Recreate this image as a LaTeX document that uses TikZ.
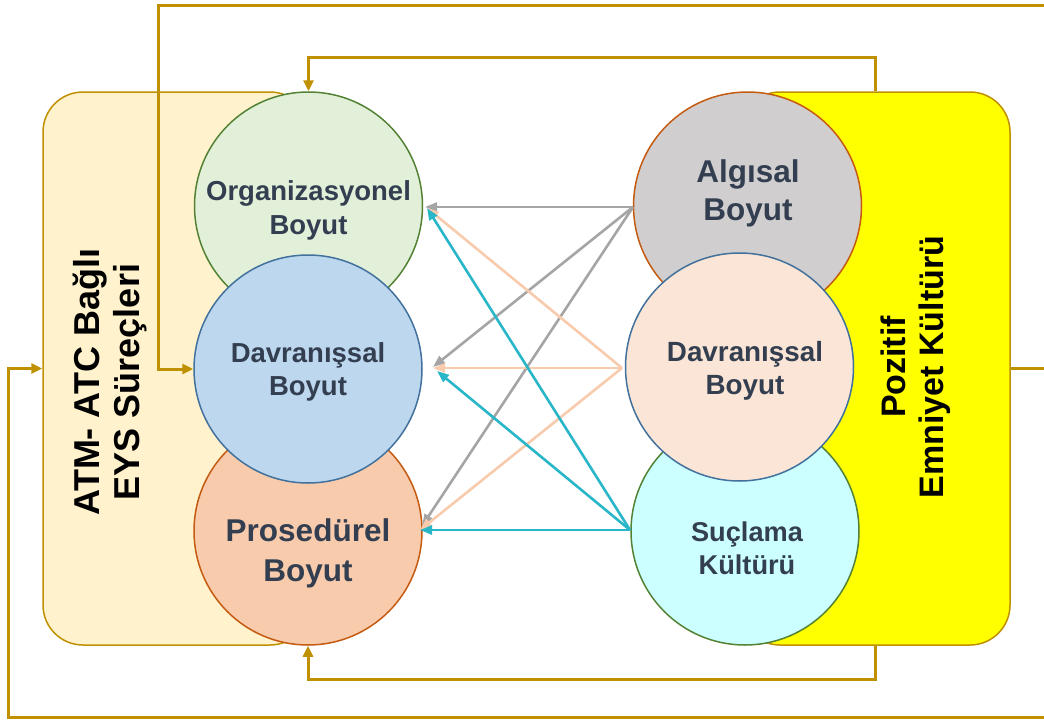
\documentclass[tikz,border=0pt]{standalone}
\usepackage{fontspec}
\setmainfont{Liberation Sans}
\usetikzlibrary{arrows.meta}
\definecolor{gold}{RGB}{191,144,0}
\definecolor{lbfill}{HTML}{FFF2CC}
\definecolor{rbfill}{HTML}{FFFF00}
\definecolor{txt}{HTML}{333F50}
\definecolor{gfill}{HTML}{E2F0D9}
\definecolor{gline}{HTML}{548235}
\definecolor{bfill}{HTML}{BDD7EE}
\definecolor{bline}{HTML}{41719C}
\definecolor{ofill}{HTML}{F8CBAD}
\definecolor{oline}{HTML}{C55A11}
\definecolor{grfill}{HTML}{D0CECE}
\definecolor{pfill}{HTML}{FBE5D6}
\definecolor{cfill}{HTML}{CCFFFF}
\definecolor{grayarr}{HTML}{A5A5A5}
\definecolor{peacharr}{HTML}{F8CBAD}
\definecolor{tealarr}{RGB}{40,182,200}
\tikzset{
  box/.style={draw=gold, line width=1.5pt, rounded corners=40pt, inner sep=0pt},
  circ/.style={circle, draw, line width=1.5pt, minimum size=228pt, inner sep=0pt},
  ctext/.style={text=txt, font=\bfseries, align=center},
  fb/.style={draw=gold, line width=3pt, -{Triangle[length=11pt,width=10pt]}},
  mid/.style={line width=2.6pt, -{Triangle[length=12pt,width=9pt]}},
}
\begin{document}
\begin{tikzpicture}[x=1pt,y=-1pt]
\useasboundingbox (0,0) rectangle (1044,720);
% boxes
\node[box, fill=lbfill, minimum width=267pt, minimum height=553pt] (LB) at (176.5,368.5) {};
\node[box, fill=rbfill, minimum width=270pt, minimum height=553pt] (RB) at (875,368.5) {};
% left circles
\node[circ, fill=gfill, draw=gline] (O) at (308.5,206) {};
\node[circ, fill=ofill, draw=oline] (P) at (308,531) {};
\node[circ, fill=bfill, draw=bline] (D) at (308,369) {};
% right circles
\node[circ, fill=grfill, draw=oline] (A) at (747.5,206) {};
\node[circ, fill=cfill, draw=gline] (S) at (745,531) {};
\node[circ, fill=pfill, draw=bline] (DR) at (739.5,367) {};
% circle texts
\node[ctext, font=\bfseries\fontsize{27.5}{34}\selectfont] (Ot) at (308.5,210) {Organizasyonel\\Boyut};
\node[ctext, font=\bfseries\fontsize{27.5}{33}\selectfont] (Dt) at (308,372) {Davranışsal\\Boyut};
\node[ctext, font=\bfseries\fontsize{31.5}{40}\selectfont] (Pt) at (308,553) {Prosedürel\\Boyut};
\node[ctext, font=\bfseries\fontsize{31.5}{38}\selectfont] (At) at (748,193) {Algısal\\Boyut};
\node[ctext, font=\bfseries\fontsize{27.8}{33}\selectfont] (DRt) at (745,371) {Davranışsal\\Boyut};
\node[ctext, font=\bfseries\fontsize{27.2}{33}\selectfont] (St) at (747,548) {Suçlama\\Kültürü};
% rotated labels
\node[rotate=90, align=center, font=\bfseries\fontsize{36}{40}\selectfont] (LBt) at (110,382) {ATM- ATC Bağlı\\EYS Süreçleri};
\node[rotate=90, align=center, font=\bfseries\fontsize{34}{38}\selectfont] (RBt) at (916,367) {Pozitif\\Emniyet Kültürü};
% arrow end coordinates
\coordinate (gs) at (633,207);
\coordinate (ps) at (622,368);
\coordinate (ts) at (630,530);
\coordinate (gO) at (425,207);
\coordinate (gD) at (433,367);
\coordinate (gP) at (422,526);
\coordinate (pO) at (427,208);
\coordinate (pD) at (433,368);
\coordinate (pP) at (420,530);
\coordinate (tO) at (427,208);
\coordinate (tD) at (437,371);
\coordinate (tP) at (420,530);
% gray
\draw[mid, grayarr] (gs) -- (gO);
\draw[mid, grayarr] (gs) -- (gD);
\draw[mid, grayarr] (gs) -- (gP);
% peach
\draw[mid, peacharr] (ps) -- (pO);
\draw[mid, peacharr] (ps) -- (pD);
\draw[mid, peacharr] (ps) -- (pP);
% teal
\draw[mid, tealarr] (ts) -- (tO);
\draw[mid, tealarr] (ts) -- (tD);
\draw[mid, tealarr] (ts) -- (tP);
% feedback connectors
\coordinate (c1) at (1060,368.5);
\coordinate (ct) at (158,5);
\coordinate (cb) at (8,717);
\draw[fb] (RB.east) -- (c1) |- (ct) |- (D.west);
\draw[fb] (RB.east) -- (c1) |- (cb) |- (LB.west);
\draw[fb] (RB.north) -- ++(0,-34) -| (O.north);
\draw[fb] (RB.south) -- ++(0,34) -| (P.south);
\end{tikzpicture}
\end{document}
